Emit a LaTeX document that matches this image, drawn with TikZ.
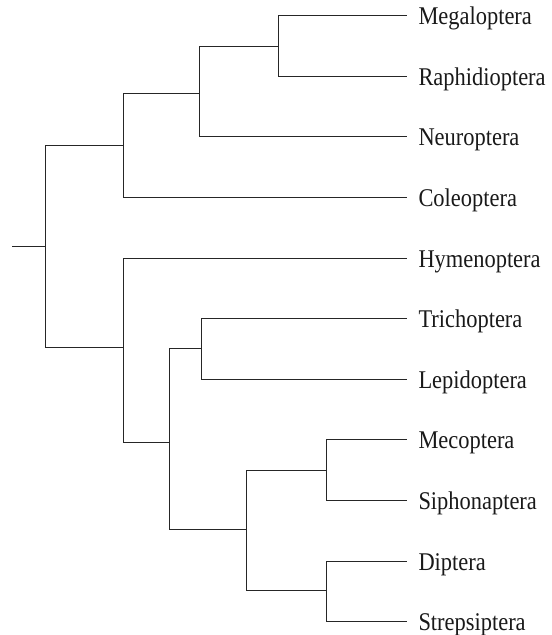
\documentclass[tikz,border=0pt]{standalone}
\usepackage{fontspec}
\setmainfont{Liberation Serif}[FakeStretch=0.88]
\begin{document}
\begin{tikzpicture}[x=1bp,y=-1bp,
  branch/.style={draw=black!85,line width=0.9bp,line cap=rect},
  tip/.style={branch,shorten >=11.6bp},
  taxon/.style={anchor=west,inner sep=0pt,text height=19bp,text depth=1bp,
    font=\fontsize{25.5bp}{30bp}\selectfont,text=black!90}]
\useasboundingbox (0,0) rectangle (552,635);

% taxon labels, evenly spaced
\node[taxon] (meg)   at (418.3, 15.7) {Megaloptera};
\node[taxon] (raph)  at (418.3, 76.3) {Raphidioptera};
\node[taxon] (neur)  at (418.3,136.9) {Neuroptera};
\node[taxon] (cole)  at (418.3,197.5) {Coleoptera};
\node[taxon] (hym)   at (418.3,258.1) {Hymenoptera};
\node[taxon] (tri)   at (418.3,318.7) {Trichoptera};
\node[taxon] (lep)   at (418.3,379.3) {Lepidoptera};
\node[taxon] (mec)   at (418.3,439.9) {Mecoptera};
\node[taxon] (siph)  at (418.3,500.5) {Siphonaptera};
\node[taxon] (dip)   at (418.3,561.1) {Diptera};
\node[taxon] (strep) at (418.3,621.7) {Strepsiptera};

% internal nodes
\coordinate (n1) at (278.7, 46.0);
\coordinate (n2) at (199.3, 93.7);
\coordinate (n3) at (123.7,145.0);
\coordinate (n4) at (201.0,348.5);
\coordinate (n5) at (326.7,470.0);
\coordinate (n6) at (326.7,590.5);
\coordinate (n7) at (246.3,529.3);
\coordinate (n8) at (169.0,442.3);
\coordinate (n9) at (123.7,347.7);
\coordinate (root) at (45.7,246.0);
\coordinate (stem) at (12.3,246.0);

% terminal branches
\draw[tip] (n1) |- (meg.west);
\draw[tip] (n1) |- (raph.west);
\draw[tip] (n2) |- (neur.west);
\draw[tip] (n3) |- (cole.west);
\draw[tip] (n9) |- (hym.west);
\draw[tip] (n4) |- (tri.west);
\draw[tip] (n4) |- (lep.west);
\draw[tip] (n5) |- (mec.west);
\draw[tip] (n5) |- (siph.west);
\draw[tip] (n6) |- (dip.west);
\draw[tip] (n6) |- (strep.west);

% internal branches
\draw[branch] (n2) |- (n1);
\draw[branch] (n3) |- (n2);
\draw[branch] (root) |- (n3);
\draw[branch] (root) |- (n9);
\draw[branch] (n9) |- (n8);
\draw[branch] (n8) |- (n4);
\draw[branch] (n8) |- (n7);
\draw[branch] (n7) |- (n5);
\draw[branch] (n7) |- (n6);
\draw[branch] (stem) -- (root);
\end{tikzpicture}
\end{document}
